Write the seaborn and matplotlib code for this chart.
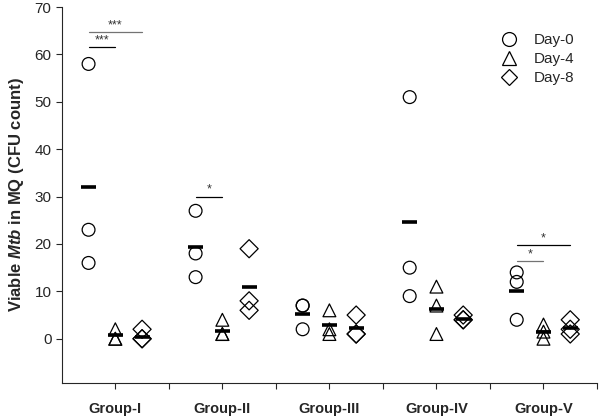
import matplotlib
matplotlib.use("Agg")
import matplotlib.pyplot as plt
from matplotlib.lines import Line2D
import numpy as np
import pandas as pd
import seaborn as sns

# values
groups = ["Group-I", "Group-II", "Group-III", "Group-IV", "Group-V"]
days = ["Day-0", "Day-4", "Day-8"]

day0 = [[58, 23, 16], [27, 18, 13], [7, 7, 2], [51, 15, 9], [14, 12, 4]]
day4 = [[2, 0, 0], [4, 1, 1], [6, 2, 1], [11, 7, 1], [3, 1.5, 0]]
day8 = [[2, 0, 0], [19, 8, 6], [5, 1, 1], [5, 4, 4], [4, 2, 1]]

# group means shown as black bars
mean0 = [32, 19.3, 5.3, 24.7, 10]
mean4 = [0.7, 1.6, 2.9, 6.3, 1.4]
mean8 = [0.3, 11, 2.3, 4.1, 2.2]

# significance bars: (group, from day, to day, y, label)
sig_group = [0, 0, 1, 4, 4]
sig_from = [0, 0, 0, 0, 0]
sig_to = [1, 2, 1, 1, 2]
sig_y = [61.5, 64.7, 30, 16.4, 19.8]
sig_text = ["***", "***", "*", "*", "*"]
sig_color = ["black", "0.45", "black", "0.45", "black"]

day_offset = {"Day-0": -0.5, "Day-4": 0.0, "Day-8": 0.5}
day_marker = {"Day-0": "o", "Day-4": "^", "Day-8": "D"}

rows = []
for gi, g in enumerate(groups):
    for d, vals in zip(days, [day0[gi], day4[gi], day8[gi]]):
        for v in vals:
            rows.append({"group": g, "day": d, "x": 2 * gi + 1 + day_offset[d], "value": v})
df = pd.DataFrame(rows)

sns.set_style("ticks")
plt.rcParams["font.family"] = ["Liberation Sans", "DejaVu Sans"]
plt.rcParams["mathtext.fontset"] = "custom"
plt.rcParams["mathtext.it"] = "Liberation Sans:bold:italic"

fig = plt.figure(figsize=(6.0, 4.17), dpi=100)
ax = fig.add_axes([0.103, 0.082, 0.892, 0.901])

sns.scatterplot(data=df, x="x", y="value", style="day", markers=day_marker,
                style_order=days, s=85, color="black", linewidth=0.9,
                legend=False, ax=ax, zorder=2)
for coll in ax.collections:
    coll.set_facecolor("none")
    coll.set_edgecolor("black")

for d, means in zip(days, [mean0, mean4, mean8]):
    xs = np.arange(len(groups)) * 2 + 1 + day_offset[d]
    ax.hlines(means, xs - 0.14, xs + 0.14, color="black", lw=2.6, zorder=3)

offs = [day_offset[d] for d in days]
for g, a, b, y, t, c in zip(sig_group, sig_from, sig_to, sig_y, sig_text, sig_color):
    x0 = 2 * g + 1 + offs[a]
    x1 = 2 * g + 1 + offs[b]
    ax.plot([x0, x1], [y, y], color=c, lw=0.9)
    ax.text((x0 + x1) / 2, y + 0.2, t, ha="center", va="bottom", fontsize=9, color="0.2")

ax.set_xlim(0, 10)
ax.set_ylim(-9.3, 70)
ax.set_yticks(np.arange(0, 71, 10))
ax.set_xticks(np.arange(1, 11))
ax.set_xticklabels([groups[i // 2] if i % 2 == 0 else "" for i in range(10)],
                   fontweight="bold", fontsize=10.5)
ax.tick_params(axis="x", length=4, width=0.8, pad=10)
ax.tick_params(axis="y", length=4, width=0.8, labelsize=11)
ax.set_xlabel("")
ax.set_ylabel(r"Viable $Mtb$ in MQ (CFU count)", fontweight="bold", fontsize=12, labelpad=6)
sns.despine(ax=ax)
for sp in ["left", "bottom"]:
    ax.spines[sp].set_linewidth(0.8)

handles = [Line2D([], [], ls="none", marker=day_marker[d], markersize=10 if d != "Day-8" else 8.5,
                  mfc="none", mec="black", mew=0.9) for d in days]
ax.legend(handles, days, loc="upper right", bbox_to_anchor=(0.975, 0.955), frameon=False,
          fontsize=11, handletextpad=0.6, labelspacing=0.32, borderaxespad=0.2)

fig.savefig("out.png", dpi=100)
